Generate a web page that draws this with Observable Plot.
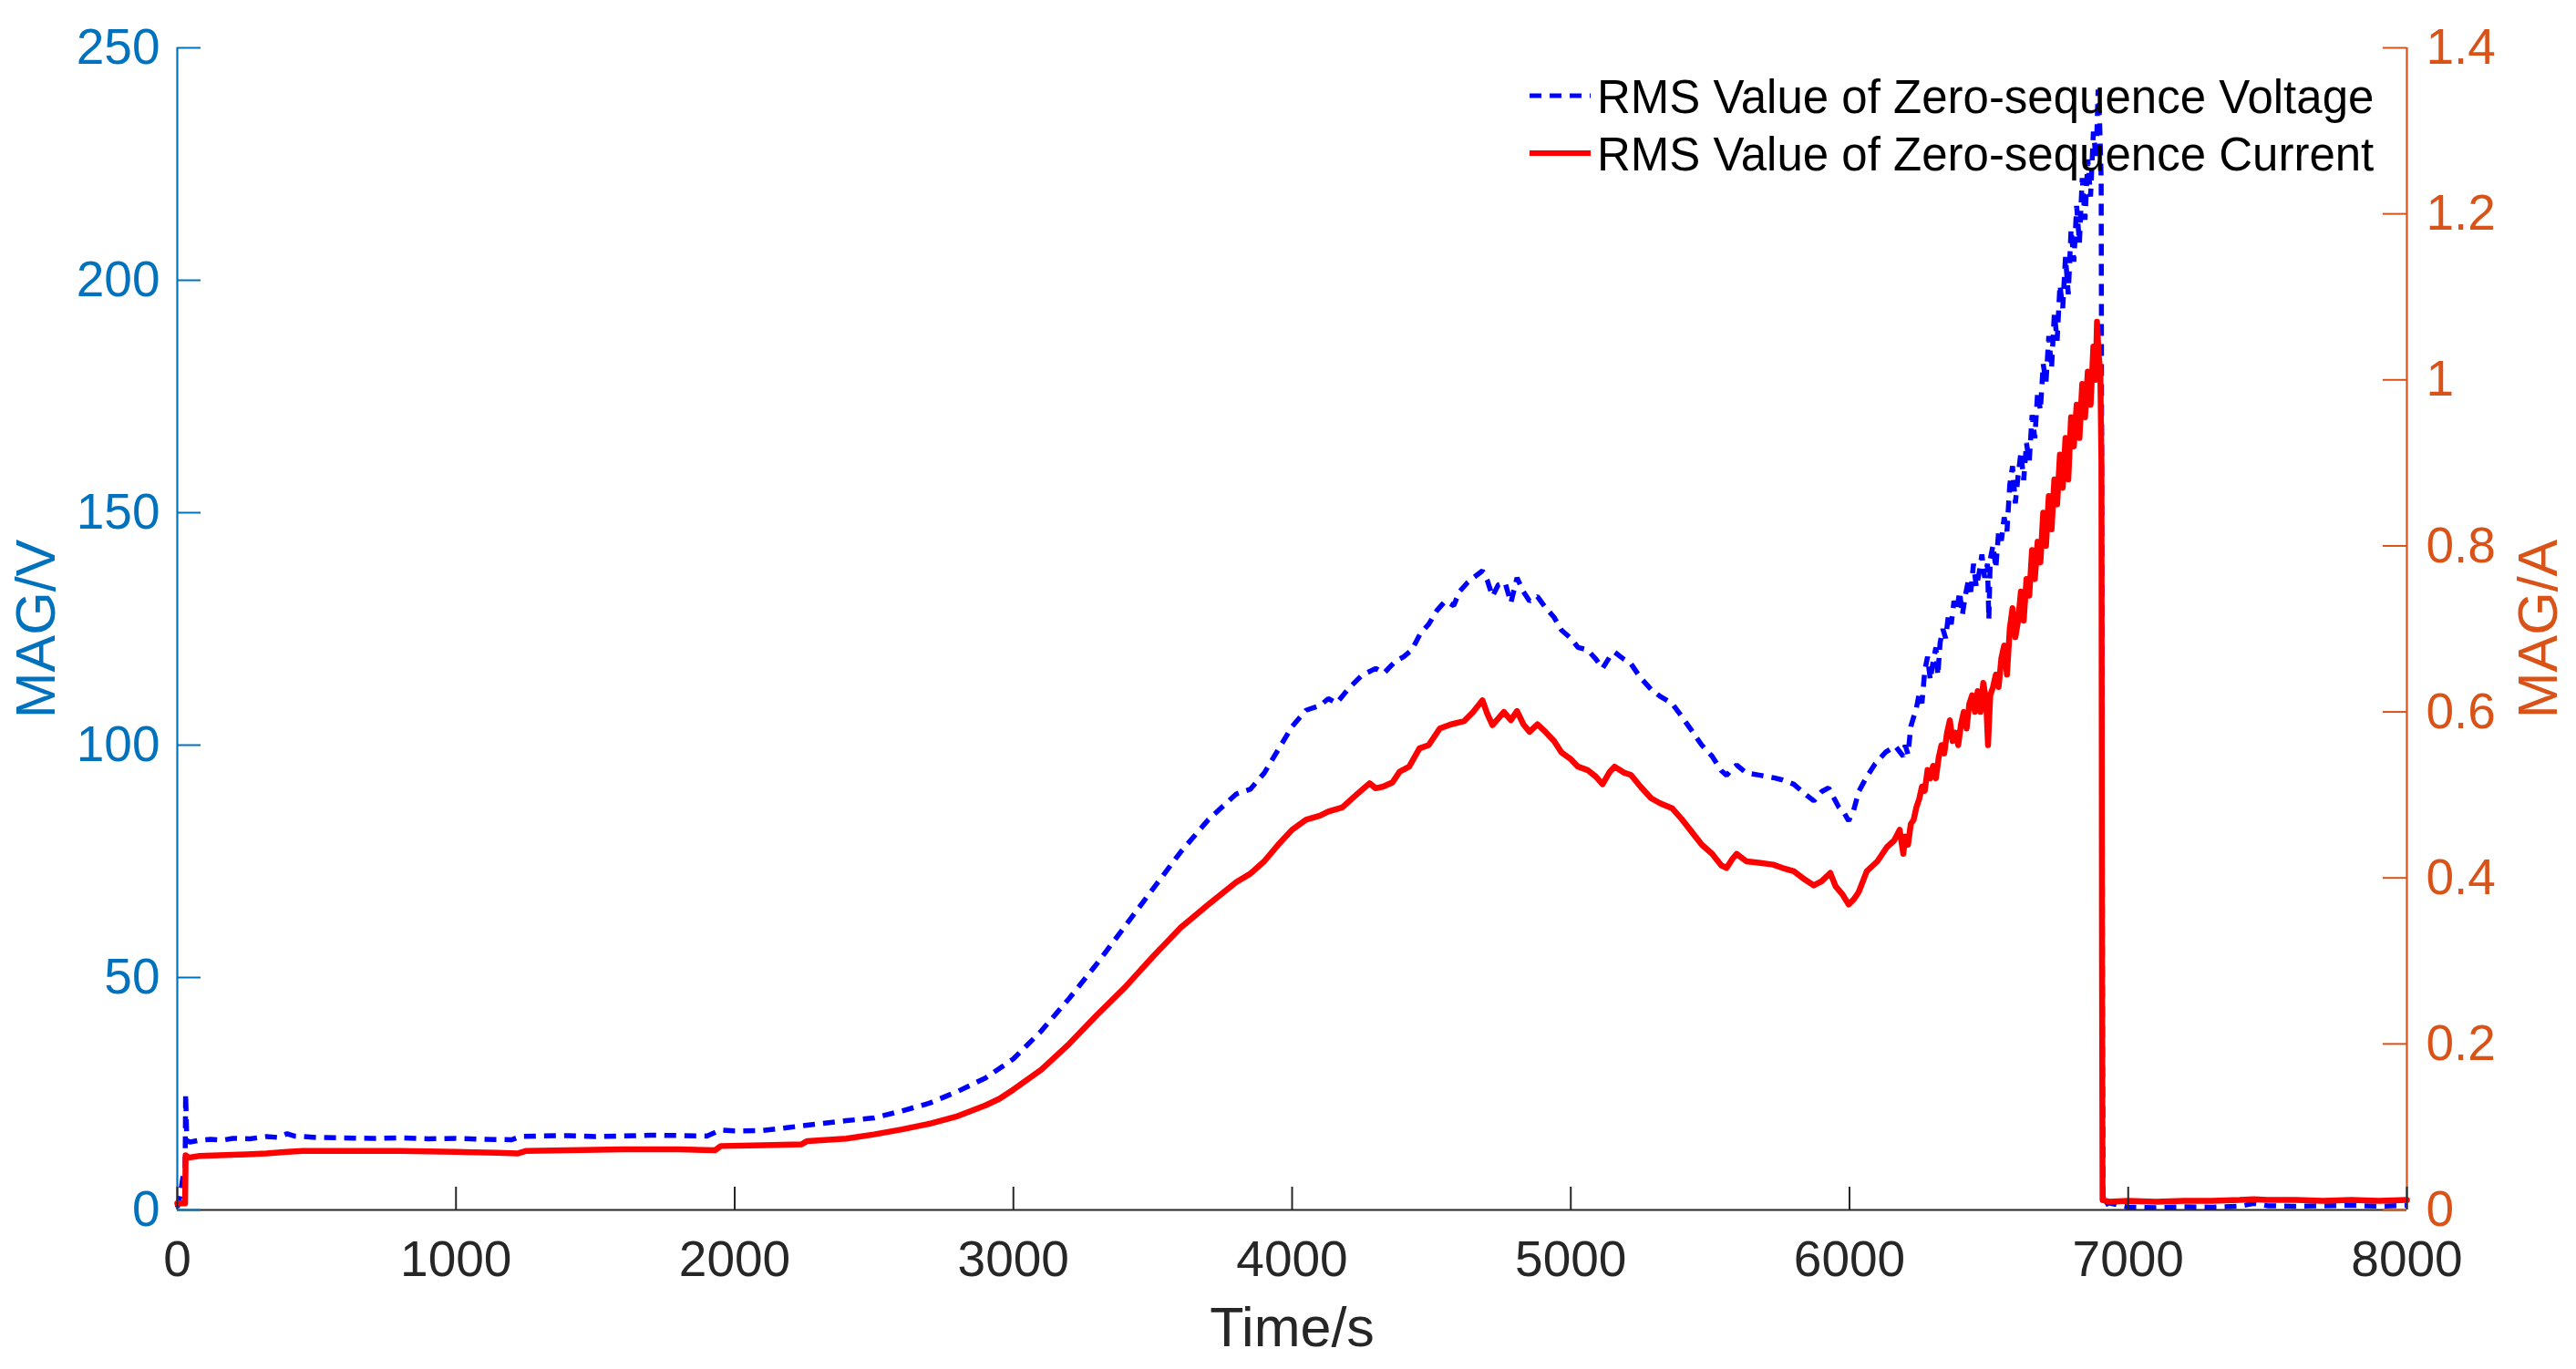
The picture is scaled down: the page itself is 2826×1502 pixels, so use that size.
<!DOCTYPE html>
<html>
<head>
<meta charset="utf-8">
<script src="https://cdn.jsdelivr.net/npm/d3@7"></script>
<script src="https://cdn.jsdelivr.net/npm/@observablehq/plot@0.6"></script>
<style>
  html, body { margin: 0; padding: 0; background: #fff; overflow: hidden; }
  #wrap { position: relative; width: 2826px; height: 1502px; }
  #legend { position: absolute; left: 0; top: 0; pointer-events: none; }
</style>
</head>
<body>
<div id="wrap"></div>
<script>
// ---------- data ----------
const voltT = [0,10,20,28,30,34,45,80,120,160,200,260,320,360,394,420,500,600,700,800,900,1000,1100,1200,1230,1300,1400,1500,1600,1700,1800,1900,1950,2000,2100,2200,2300,2400,2500,2600,2700,2800,2900,3000,3100,3200,3300,3400,3500,3600,3700,3800,3850,3900,3950,4000,4050,4100,4130,4160,4200,4250,4300,4330,4370,4400,4430,4460,4490,4520,4550,4580,4600,4630,4650,4683,4700,4719,4740,4764,4785,4807,4830,4852,4880,4909,4940,4967,5000,5026,5060,5090,5114,5140,5157,5190,5216,5250,5288,5320,5363,5400,5435,5470,5507,5540,5559,5580,5595,5630,5680,5726,5760,5800,5840,5872,5900,5925,5945,5961,5980,5997,6015,6033,6060,6092,6130,6164,6193,
  6200,6210,6220,6230,6240,6250,6260,6270,6280,6290,6300,6310,6317,6325,6335,6345,6355,6365,6375,6385,6395,6405,6415,6425,6435,6445,6455,6465,6475,6485,6495,6500,6505,6515,6525,6535,6545,6555,6565,6575,6585,6595,6605,6615,6625,6635,6645,6655,6665,6675,6685,6695,6705,6715,6725,6735,6745,6755,6765,6775,6785,6795,6805,6815,6825,6835,6845,6855,6865,6875,6885,6892,6898,6903,6906,6908,6910,6915,
  6930,7000,7100,7200,7300,7400,7450,7500,7600,7700,7800,7900,8000];
const voltV = [0.5,3,7,9,25,15,14.6,15.0,15.2,15.0,15.4,15.3,15.8,15.6,16.4,15.9,15.6,15.5,15.4,15.5,15.3,15.4,15.2,15.1,15.8,15.9,16.0,15.8,15.9,16.1,16.0,15.9,17.2,17.0,17.1,17.8,18.5,19.2,19.8,21.3,23.0,25.5,28.4,32.5,38.5,45.5,53,61,69,77,84,89.5,90.5,94,99,104,107.5,108.5,110,109,112,115,116.5,115.5,118,119,120.5,124,126,129,131,130,133,135,136,137.5,135.5,132,134.5,135,130.6,136,133,131,132,129.6,127.5,124.7,123,121,120.5,118.5,116.5,119,120,118.5,117.5,114.5,112,110.5,109,106,103,100,97.6,94.5,93.5,95,95.7,94,93.5,93,92.5,91.6,89.5,88,90,90.8,88.5,86.7,85.5,83.7,86,90,93,96,98.5,99.8,97.6,
  100,98,104,106,108,111,109,116,119,114,118,121,115,122,125,123,128,126,131,129,133,128,132,135,133,139,134,137,141,136,139,127,140,143,138,146,144,149,146,156,160,152,158,163,157,165,161,171,166,176,172,182,178,188,181,193,187,199,194,205,197,211,204,216,208,222,213,226,218,232,226,241,233,222,120,30,3,1,
  1.5,0.6,0.5,0.7,0.6,0.8,1.4,0.9,0.8,0.9,1.0,0.8,1.0];

const currT = [0,20,28,30,40,80,150,250,320,394,450,600,800,1000,1150,1220,1250,1400,1600,1800,1930,1950,2100,2240,2260,2400,2500,2600,2700,2800,2900,2950,3000,3100,3200,3300,3400,3500,3600,3700,3800,3850,3900,3950,4000,4050,4100,4130,4180,4230,4278,4300,4327,4360,4386,4420,4457,4490,4530,4570,4618,4650,4683,4700,4719,4760,4785,4807,4830,4852,4880,4909,4940,4967,5000,5026,5060,5090,5114,5140,5157,5190,5216,5250,5288,5320,5363,5400,5435,5470,5507,5540,5559,5580,5595,5630,5680,5726,5760,5800,5840,5872,5900,5931,5950,5975,5997,6015,6033,6062,6100,6134,6160,6180,6193,
  6200,6210,6220,6230,6240,6250,6260,6270,6280,6290,6300,6310,6320,6330,6340,6350,6360,6370,6380,6390,6400,6410,6420,6430,6440,6450,6460,6470,6480,6490,6497,6505,6515,6525,6535,6545,6555,6565,6575,6585,6595,6605,6615,6625,6635,6645,6655,6665,6675,6685,6695,6705,6715,6725,6735,6745,6755,6765,6775,6785,6795,6805,6815,6825,6835,6845,6855,6865,6875,6883,6888,6894,6900,6904,6906,6908,
  6930,7000,7100,7200,7300,7400,7450,7500,7600,7700,7800,7900,8000];
const currA = [0.008,0.008,0.008,0.066,0.063,0.065,0.066,0.067,0.068,0.070,0.071,0.071,0.071,0.070,0.069,0.068,0.071,0.072,0.073,0.073,0.072,0.077,0.078,0.079,0.083,0.086,0.091,0.097,0.104,0.113,0.126,0.134,0.145,0.169,0.200,0.235,0.268,0.305,0.340,0.368,0.395,0.405,0.420,0.440,0.458,0.470,0.475,0.480,0.485,0.500,0.514,0.508,0.510,0.515,0.528,0.534,0.556,0.560,0.580,0.585,0.589,0.600,0.614,0.598,0.584,0.600,0.590,0.601,0.585,0.576,0.585,0.576,0.565,0.551,0.543,0.534,0.530,0.522,0.513,0.528,0.534,0.527,0.524,0.510,0.496,0.490,0.484,0.470,0.455,0.440,0.429,0.415,0.412,0.423,0.429,0.420,0.418,0.416,0.412,0.408,0.398,0.391,0.396,0.406,0.390,0.380,0.368,0.374,0.383,0.408,0.420,0.437,0.445,0.458,0.429,
  0.450,0.440,0.465,0.470,0.485,0.495,0.510,0.505,0.530,0.520,0.535,0.520,0.545,0.560,0.550,0.575,0.590,0.565,0.575,0.560,0.585,0.600,0.580,0.610,0.620,0.600,0.625,0.600,0.635,0.615,0.560,0.620,0.630,0.645,0.630,0.665,0.680,0.645,0.700,0.725,0.690,0.710,0.745,0.710,0.760,0.740,0.795,0.760,0.805,0.780,0.840,0.800,0.860,0.820,0.880,0.850,0.910,0.870,0.930,0.880,0.955,0.920,0.970,0.930,0.995,0.955,1.010,0.970,1.040,1.000,1.070,1.030,1.010,0.900,0.300,0.012,
  0.010,0.011,0.010,0.011,0.011,0.012,0.013,0.012,0.012,0.011,0.012,0.011,0.012];

const timeTicks = [0,1000,2000,3000,4000,5000,6000,7000,8000];
const voltTicks = [0,50,100,150,200,250];
const ampTicks = [0,0.2,0.4,0.6,0.8,1,1.2,1.4];
const seriesNames = ["RMS Value of Zero-sequence Voltage", "RMS Value of Zero-sequence Current"];
const axisLabels = {x: "Time/s", yLeft: "MAG/V", yRight: "MAG/A"};

// ---------- build ----------
const BLUE_AX = "#0072BD", ORANGE = "#D95319", DARK = "#262626";
const VCOL = "#0000FF", ICOL = "#FF0000";
const W = 2826, H = 1502, ML = 194, MR = 186, MT = 52, MB = 175;
const PW = W - ML - MR, PH = H - MT - MB;
const K = 250 / 1.4; // amps -> left-axis units

const volt = voltT.map((t, i) => ({t, v: voltV[i]}));
const curr = currT.map((t, i) => ({t, v: currA[i] * K}));

const font = "'Liberation Sans', Arial, Helvetica, sans-serif";

const chart = Plot.plot({
  width: W, height: H,
  marginLeft: ML, marginRight: MR, marginTop: MT, marginBottom: MB,
  x: {domain: [0, 8000]},
  y: {domain: [0, 250]},
  style: {fontFamily: font, background: "#fff", overflow: "visible"},
  marks: [
    Plot.line(volt, {x: "t", y: "v", stroke: VCOL, strokeWidth: 5.5, strokeDasharray: "13,9", strokeLinejoin: "miter", strokeLinecap: "butt"}),
    Plot.line(curr, {x: "t", y: "v", stroke: ICOL, strokeWidth: 6.5, strokeLinejoin: "round"}),
    Plot.ruleY([0], {stroke: DARK, strokeWidth: 2.2}),
    Plot.ruleX([0], {stroke: BLUE_AX, strokeWidth: 2.2}),
    Plot.ruleX([8000], {stroke: ORANGE, strokeWidth: 2.2}),
    Plot.tickX(timeTicks, {x: d => d, stroke: DARK, strokeWidth: 2, insetTop: PH - 25}),
    Plot.tickY(voltTicks, {y: d => d, stroke: BLUE_AX, strokeWidth: 2, insetRight: PW - 26}),
    Plot.tickY(ampTicks, {y: d => d * K, stroke: ORANGE, strokeWidth: 2, insetLeft: PW - 26}),
    Plot.axisX({ticks: timeTicks, tickFormat: d => String(d), tickSize: 0, tickPadding: 33, fontSize: 55, color: DARK, label: null}),
    Plot.axisY({anchor: "left", ticks: voltTicks, tickFormat: d => String(d), tickSize: 0, tickPadding: 19, fontSize: 55, color: BLUE_AX, label: null}),
    Plot.axisY({anchor: "right", ticks: ampTicks.map(a => a * K), tickFormat: d => String(+(d / K).toFixed(1)), tickSize: 0, tickPadding: 21, fontSize: 55, color: ORANGE, label: null}),
    Plot.text([axisLabels.yLeft], {text: d => d, frameAnchor: "left", rotate: -90, dx: -154, fontSize: 61, fill: BLUE_AX, textAnchor: "middle", lineAnchor: "middle"}),
    Plot.text([axisLabels.yRight], {text: d => d, frameAnchor: "right", rotate: -90, dx: 145, fontSize: 61, fill: ORANGE, textAnchor: "middle", lineAnchor: "middle"}),
    Plot.text([axisLabels.x], {text: d => d, frameAnchor: "bottom", dy: 130, fontSize: 61, fill: DARK, textAnchor: "middle", lineAnchor: "middle"})
  ]
});

const wrap = document.getElementById("wrap");
wrap.appendChild(chart);

// legend overlay
const leg = d3.select(wrap).append("svg").attr("id", "legend")
  .attr("width", W).attr("height", 260).style("font-family", font);
const rows = [
  {name: seriesNames[0], color: VCOL, dash: "13,9", sw: 5, y: 105},
  {name: seriesNames[1], color: ICOL, dash: null, sw: 6, y: 168}
];
rows.forEach(r => {
  const ln = leg.append("line").attr("x1", 1678).attr("x2", 1745).attr("y1", r.y).attr("y2", r.y)
    .attr("stroke", r.color).attr("stroke-width", r.sw);
  if (r.dash) ln.attr("stroke-dasharray", r.dash);
  leg.append("text").attr("x", 1752).attr("y", r.y + 19).attr("font-size", 51).attr("fill", "#000").text(r.name);
});
</script>
</body>
</html>
